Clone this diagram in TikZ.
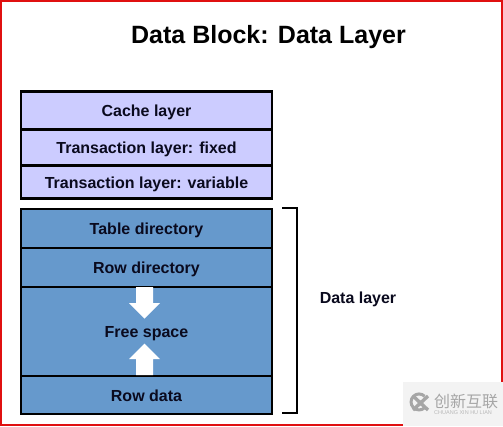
\documentclass[tikz,border=0pt]{standalone}
\usepackage{fontspec}
\setmainfont{Liberation Sans}
\newfontfamily\cjk{Noto Sans CJK SC}
\definecolor{lilacfill}{HTML}{CCCCFF}
\definecolor{bluefill}{HTML}{6699CC}
\definecolor{inkdark}{HTML}{0A0A1E}
\definecolor{frame}{HTML}{E01010}
\definecolor{wmbg}{HTML}{F3F3F3}
\definecolor{wmfg}{HTML}{A6A6A6}
\tikzset{
  layer/.style={draw=black,line width=2.2pt,minimum width=251pt,inner sep=0pt,outer sep=0pt,text=inkdark,font=\fontsize{16}{18}\selectfont\bfseries,anchor=north west,text height=14pt,text depth=2pt},
  lilac/.style={layer,fill=lilacfill},
  blue/.style={layer,fill=bluefill},
  whitearrow/.style={fill=white,draw=none},
  brace/.style={draw=black,line width=1.6pt},
}
\begin{document}
\begin{tikzpicture}[x=1pt,y=-1pt]
\useasboundingbox (0,0) rectangle (503,426);
\fill[white] (0,0) rectangle (503,426);
\draw[frame,line width=2.2pt] (1.1,426) -- (1.1,1.1) -- (501.9,1.1) -- (501.9,382);
\draw[frame,line width=2.2pt] (1.1,424.9) -- (403,424.9);
\node[font=\fontsize{25}{28}\selectfont\bfseries,text=black] (title) at (268.5,37.5) {Data Block: Data Layer};
\node[lilac,minimum height=38pt] (cache) at (21,91.5) {Cache layer};
\node[lilac,minimum height=36pt] (fixed) at (21,129.5) {Transaction layer: fixed};
\node[lilac,minimum height=33pt] (variable) at (21,165.5) {Transaction layer: variable};
\node[blue,minimum height=39pt] (tabledir) at (21,209) {Table directory};
\node[blue,minimum height=39pt] (rowdir) at (21,248) {Row directory};
\node[blue,minimum height=89pt] (free) at (21,287) {Free space};
\node[blue,minimum height=38pt] (rowdata) at (21,376) {Row data};
\fill[whitearrow] (136,287) -- (153,287) -- (153,303) -- (160,303) -- (144.5,318.5) -- (129,303) -- (136,303) -- cycle;
\fill[whitearrow] (136,375) -- (153,375) -- (153,359) -- (160,359) -- (144.5,343.5) -- (129,359) -- (136,359) -- cycle;
\coordinate (bt) at (282,208);
\coordinate (bb) at (282,412.7);
\draw[brace] (bt) -- (297,208) -- (297,412.7) -- (bb);
\node[font=\fontsize{16}{18}\selectfont\bfseries,text=inkdark] (datalabel) at (358,299) {Data layer};
\fill[wmbg] (403,382) rectangle (503,426);
\draw[wmfg,line width=3pt] (424.7,396.3) arc (-45:-315:8);
\draw[wmfg,line width=3.4pt] (413,396) -- (428,410) (428,396) -- (413,410);
\node[font=\cjk\fontsize{16}{17}\selectfont,text=wmfg,anchor=west,inner sep=0pt] (wmcn) at (434,401.5) {创新互联};
\node[font=\fontsize{5.5}{6}\selectfont,text=wmfg!80!white,anchor=west,inner sep=0pt] (wmen) at (434,413) {CHUANG XIN HU LIAN};
\end{tikzpicture}
\end{document}
